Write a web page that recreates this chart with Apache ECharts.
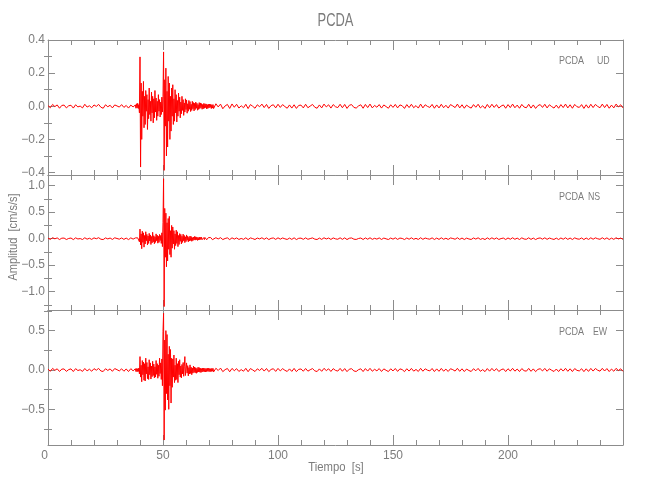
<!DOCTYPE html>
<html>
<head>
<meta charset="utf-8">
<script src="https://cdn.jsdelivr.net/npm/echarts@6/dist/echarts.min.js"></script>
<style>html,body{margin:0;padding:0;background:#fff}#c{width:650px;height:500px}</style>
</head>
<body>
<div id="c"></div>
<script>
// ---- Data (values in 0.001 cm/s/s) ----
const VALUE_UNIT = 0.001;
// sampling segments: [start s, end s, step s]
const sampleSegments = [[0, 37, 1], [38, 71.75, 0.25], [72, 250, 1]];

const udPre = [4,-9,11,-2,8,-12,5,7,-10,3,6,-11,9,-4,1,-10,12,-5,3,-9,8,-1,11,-6,-12,9,-3,6,-10,8,2,-5,10,-7,5,-11,7,-4];
const udEvent = [8,-12,15,-10,18,-14,10,
-40,298,-367,140,-200,90,-60,150,-130,
60,-110,95,-30,70,-140,40,-75,
110,-50,30,-90,85,-40,60,-100,
45,-70,95,-35,50,-85,30,-60,
70,-30,40,-65,25,-50,55,-35,
60,328,-387,160,-120,230,-300,90,
-246,180,-90,140,-200,60,-150,110,
-60,130,-110,45,-90,100,-40,70,
-95,35,-60,80,-30,55,-70,25,
-45,60,-25,40,-55,20,-35,45,
-20,38,-42,15,-30,35,-18,28,
-32,12,-25,30,-15,22,-28,18,
-20,25,-12,18,-24,10,-19,22,
-14,20,-9,16,-18,11,-15,17,
-12,15,-8,14,-16,10,-13,12,
-10,13,-7,12,-14,9,-11,10];
const udPost = [-14,15,-4,13,-15,2,11,-13,14,-6,
12,-11,3,-9,12,-14,10,0,-12,9,
-3,13,-8,11,-13,4,9,-10,12,-7,
10,-2,-12,8,-11,9,-13,5,7,-10,
12,-9,1,11,-6,-12,8,-10,13,-4,
9,-11,10,-3,-8,12,-9,11,-13,6,
10,-7,-11,2,9,-12,11,-8,13,-10,
5,-6,10,-11,8,-2,-12,9,-7,11,
-10,8,3,-13,10,-8,12,-9,4,-11,
13,-10,9,-1,-7,11,-12,8,-10,12,
-9,6,-11,10,2,-8,13,-10,9,-12,
7,-4,-11,10,-6,12,-10,3,-13,11,
-9,12,-7,10,-11,1,8,-12,10,-8,
13,-9,7,-12,11,-5,-9,12,-11,8,
-13,4,10,-7,12,-10,9,-2,-11,7,
-12,10,-8,13,-10,9,-12,11,-3,-7,
10,-13,9,-11,12,-8,11,-1,-9,13,
-8,11,-12,7,-10,13,-4,9,-10];

const nsPre = [10,-15,18,-3,14,-17,9,11,-16,4,12,-18,15,-6,2,-16,17,-10,8,-14,15,-2,18,-11,-17,14,-5,12,-15,16,3,-10,13,-14,11,-18,15,-9];
const nsEvent = [14,-18,16,-20,15,-17,22,-60,
180,-120,90,-190,140,-70,110,-160,
60,-100,130,-40,80,-120,50,-90,
100,-45,70,-110,40,-80,120,-60,
55,-95,35,-70,90,-40,65,-85,
45,-70,80,-35,60,-90,110,-150,
300,1130,-1280,570,-350,480,-530,300,
-420,380,-200,420,-300,150,-350,250,
-180,220,-100,150,-200,90,-130,160,
-90,130,-150,60,-110,95,-50,80,
-100,45,-70,85,-40,60,-75,35,
-55,70,-30,45,-60,25,-45,50,
-35,40,-50,20,-38,30,-25,42,
-28,35,-20,30,-33,18,-26,30,
-22,25,-15,27,-20,16,-24,20,
-18,22,-14,19,-21,15,-17,20,
-16,18,-13,20,-15,17,-19,14];
const nsPost = [-20,18,-6,19,-17,3,15,-18,16,-8,
14,-15,4,-13,16,-18,14,1,-16,12,
-5,17,-12,15,-17,6,13,-14,16,-10,
13,-3,-15,11,-14,16,-17,7,10,-13,
15,-12,2,14,-9,-16,11,-14,17,-6,
12,-15,14,-4,-11,16,-13,15,-17,8,
13,-10,-15,3,12,-16,14,-11,17,-13,
7,-9,14,-15,11,-3,-16,12,-10,15,
-14,11,4,-17,13,-11,16,-12,6,-15,
17,-13,12,-2,-10,15,-16,11,-14,16,
-12,8,-15,13,3,-11,17,-14,12,-16,
10,-6,-15,13,-8,16,-14,4,-17,15,
-12,16,-10,14,-15,2,11,-16,13,-11,
17,-12,10,-16,15,-7,-12,16,-14,11,
-17,6,13,-10,16,-13,12,-3,-15,10,
-16,13,-11,17,-14,12,-16,15,-4,-10,
13,-17,12,-15,16,-11,15,-2,-12,17,
-11,15,-16,10,-13,17,-6,12,-14];

const ewPre = [12,-17,20,-4,15,-19,11,13,-18,5,14,-20,17,-7,3,-18,19,-12,10,-16,17,-3,20,-13,-19,16,-6,14,-17,18,4,-12,15,-16,13,-20,17,-11];
const ewEvent = [16,-20,18,-22,17,-19,25,-50,
170,-90,60,-150,120,-60,100,-130,
80,-140,150,-50,95,-110,40,-120,
130,-60,90,-115,50,-85,110,-70,
75,-100,40,-90,120,-55,80,-105,
60,-80,150,-45,90,-120,140,-200,
490,720,-890,380,-510,500,-300,450,
-380,200,-500,300,-200,260,-420,150,
-220,140,-90,190,-160,60,-130,150,
-120,80,-160,110,-60,130,-90,50,
-100,70,-50,95,-80,40,170,-70,
-60,90,-40,55,-75,30,-50,65,
-45,35,-60,25,-40,50,-30,38,
-35,28,-42,20,-30,35,-25,30,
-28,22,-32,18,-26,24,-20,25,
-22,20,-25,18,-21,23,-17,22,
-20,18,-22,17,-19,21,-16,20];
const ewPost = [-25,22,-7,24,-21,4,19,-23,20,-9,
17,-19,5,-16,21,-22,18,1,-20,15,
-6,21,-14,19,-21,7,16,-18,20,-12,
17,-4,-19,14,-18,20,-21,8,13,-16,
19,-15,3,18,-11,-20,14,-17,21,-8,
15,-19,17,-5,-14,20,-16,18,-21,10,
16,-12,-19,4,15,-20,18,-14,21,-16,
9,-11,18,-19,14,-4,-20,15,-12,19,
-18,14,5,-21,16,-14,20,-15,7,-19,
21,-16,15,-3,-12,19,-20,14,-17,20,
-15,10,-19,16,4,-14,21,-17,15,-20,
12,-7,-19,16,-10,20,-17,5,-21,18,
-15,20,-12,17,-19,3,14,-20,16,-13,
21,-15,12,-20,18,-9,-15,20,-17,14,
-21,8,16,-12,20,-16,15,-4,-19,12,
-20,16,-14,21,-17,15,-20,18,-5,-12,
16,-21,15,-18,20,-14,19,-3,-15,21,
-13,18,-20,12,-16,21,-7,15,-18];

// axis ranges and tick labels
const timeRange = [0, 250];
const panelRanges = [[-0.415, 0.4], [-1.345, 1.2], [-0.953, 0.762]];
const majorTicks = [[-0.4, -0.2, 0, 0.2, 0.4], [-1.0, -0.5, 0, 0.5, 1.0], [-0.5, 0, 0.5]];
const minorTicks = [[-0.3, -0.1, 0.1, 0.3], [-1.25, -0.75, -0.25, 0.25, 0.75], [-0.75, -0.25, 0.25, 0.75]];
const componentNames = ['UD', 'NS', 'EW'];
const stationName = 'PCDA';

// ---- build ----
const times = [];
sampleSegments.forEach(([a, b, s]) => {
  const n = Math.round((b - a) / s);
  for (let i = 0; i <= n; i++) times.push(a + i * s);
});
const traces = [udPre.concat(udEvent, udPost), nsPre.concat(nsEvent, nsPost), ewPre.concat(ewEvent, ewPost)];
traces.forEach((t, k) => { if (t.length !== times.length) console.error('length mismatch', k, t.length, times.length); });

const FONT = "'Liberation Sans', Arial, sans-serif";
const TXT = '#7c7c7c';
const AX = '#8c8c8c';
const tops = [40, 175, 310];
const H = 135;

const grid = tops.map(t => ({ left: 48, right: 27, top: t, height: H, containLabel: false }));
const xAxis = [], yAxis = [], series = [];
const fmt = v => (v < 0 ? '\u2212' : '') + Math.abs(v).toFixed(1);

for (let g = 0; g < 3; g++) {
  ['bottom', 'top'].forEach(pos => {
    xAxis.push({
      type: 'value', gridIndex: g, position: pos, min: timeRange[0], max: timeRange[1], interval: 50,
      axisLine: { show: true, onZero: false, lineStyle: { color: AX, width: 1 } },
      axisTick: { show: true, inside: true, length: 10, lineStyle: { color: AX } },
      minorTick: { show: true, splitNumber: 5, length: 5, lineStyle: { color: AX } },
      splitLine: { show: false }, minorSplitLine: { show: false },
      axisLabel: { show: pos === 'bottom' && g === 2, showMaxLabel: false, color: TXT, fontSize: 12, fontFamily: FONT, margin: 5, alignMinLabel: 'right' }
    });
  });
  ['left', 'right'].forEach(pos => {
    yAxis.push({
      type: 'value', gridIndex: g, position: pos, min: panelRanges[g][0], max: panelRanges[g][1],
      axisLine: { show: true, onZero: false, lineStyle: { color: AX, width: 1 } },
      axisTick: { show: true, inside: true, length: 7, customValues: majorTicks[g], lineStyle: { color: AX } },
      splitLine: { show: false },
      axisLabel: { show: pos === 'left', customValues: majorTicks[g], formatter: fmt, color: TXT, fontSize: 12, fontFamily: FONT, margin: 3 }
    });
    yAxis.push({
      type: 'value', gridIndex: g, position: pos, min: panelRanges[g][0], max: panelRanges[g][1],
      axisLine: { show: false },
      axisTick: { show: true, inside: true, length: 4, customValues: minorTicks[g], lineStyle: { color: AX } },
      splitLine: { show: false },
      axisLabel: { show: false }
    });
  });
  series.push({
    type: 'line', xAxisIndex: g * 2, yAxisIndex: g * 4,
    data: times.map((t, i) => [t, traces[g][i] * VALUE_UNIT]),
    showSymbol: false, symbol: 'none', sampling: null, clip: true,
    lineStyle: { color: '#ff0000', width: 1 },
    silent: true
  });
}

const annotY = [61, 197, 332];
const compX = [597, 588, 593];
const txt = (text, x, y, size, sx, extra) => Object.assign({
  type: 'text', x, y, scaleX: sx,
  style: { text, fill: TXT, font: size + 'px ' + FONT, textAlign: 'left', textVerticalAlign: 'middle' }
}, extra || {});
const graphic = [
  { type: 'text', x: 335.5, y: 21, scaleX: 0.68, style: { text: stationName, fill: TXT, font: '19px ' + FONT, textAlign: 'center', textVerticalAlign: 'middle' } },
  { type: 'text', x: 13, y: 237, rotation: Math.PI / 2, scaleX: 0.85, style: { text: 'Amplitud  [cm/s/s]', fill: TXT, font: '13px ' + FONT, textAlign: 'center', textVerticalAlign: 'middle' } },
  { type: 'text', x: 336, y: 467, scaleX: 0.87, style: { text: 'Tiempo  [s]', fill: TXT, font: '13px ' + FONT, textAlign: 'center', textVerticalAlign: 'middle' } }
];
for (let g = 0; g < 3; g++) {
  graphic.push(txt(stationName, 559, annotY[g], 11, 0.82));
  graphic.push(txt(componentNames[g], compX[g], annotY[g], 11, 0.8));
}

const chart = echarts.init(document.getElementById('c'), null, { renderer: 'canvas' });
chart.setOption({ animation: false, backgroundColor: '#fff', grid, xAxis, yAxis, series, graphic });
</script>
</body>
</html>
